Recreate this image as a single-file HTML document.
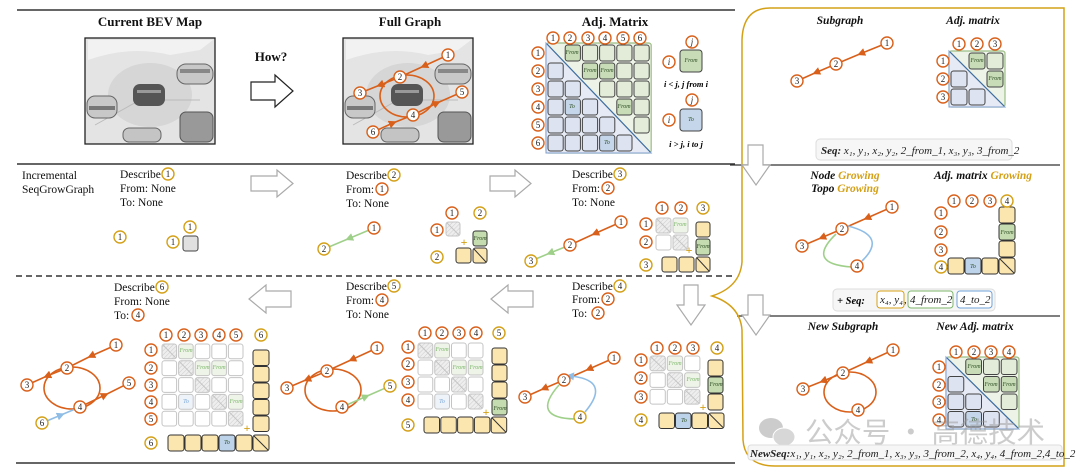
<!DOCTYPE html>
<html><head><meta charset="utf-8">
<style>
html,body{margin:0;padding:0;background:#fff;}
svg{display:block;font-family:"Liberation Serif","Noto Serif CJK SC",serif;}
.o{fill:#fff;stroke:#d9601a;stroke-width:1.4}
.g{fill:#fff;stroke:#d4a017;stroke-width:1.4}
.n{font-size:9px;text-anchor:middle;dominant-baseline:central;fill:#222}
.ttl{font-size:13px;font-weight:bold;text-anchor:middle;fill:#111}
.it{font-size:11.5px;font-weight:bold;font-style:italic;text-anchor:middle;fill:#111}
.gr{fill:#d4a017}
.d{font-size:11.5px;fill:#111}
.f{font-size:6px;font-style:italic;text-anchor:middle;dominant-baseline:central;fill:#2d4d22}
.ff{font-size:6px;font-style:italic;text-anchor:middle;dominant-baseline:central;fill:#7cb56a}
.tb{font-size:6px;font-style:italic;text-anchor:middle;dominant-baseline:central;fill:#7aa6d8}
.eo{stroke:#d9601a;stroke-width:1.6;fill:none}
.eg{stroke:#9fd08a;stroke-width:1.6;fill:none}
.eb{stroke:#8fbde6;stroke-width:1.6;fill:none}
.ha{fill:#fff;stroke:#aaa;stroke-width:1.2}
.sq{font-size:11px;font-style:italic;fill:#222}
</style></head>
<body>
<svg id="s" width="1080" height="475" viewBox="0 0 1080 475" xmlns="http://www.w3.org/2000/svg">
<defs>
<marker id="ao" viewBox="0 0 10 10" refX="5" refY="5" markerWidth="5" markerHeight="5" orient="auto"><path d="M0,0L10,5L0,10z" fill="#d9601a"/></marker>
<marker id="ag" viewBox="0 0 10 10" refX="5" refY="5" markerWidth="5" markerHeight="5" orient="auto"><path d="M0,0L10,5L0,10z" fill="#9fd08a"/></marker>
<marker id="ab" viewBox="0 0 10 10" refX="5" refY="5" markerWidth="5" markerHeight="5" orient="auto"><path d="M0,0L10,5L0,10z" fill="#8fbde6"/></marker>
<pattern id="ht" width="3" height="3" patternUnits="userSpaceOnUse" patternTransform="rotate(45)"><rect width="3" height="3" fill="#eee"/><line x1="0" y1="0" x2="0" y2="3" stroke="#ccc" stroke-width="1"/></pattern>
<g id="bevimg">
<rect x="85" y="38" width="130" height="106" fill="#e4e4e4"/>
<path d="M88,60 Q130,45 170,55 L200,50 L213,40 L88,40Z" fill="#f2f2f2"/>
<ellipse cx="150" cy="95" rx="42" ry="32" fill="#d6d6d6"/>
<path d="M95,125 L140,100 L200,100" stroke="#bbb" fill="none"/>
<rect x="133" y="84" width="32" height="22" rx="7" fill="#555"/>
<rect x="137" y="90" width="24" height="3" fill="#999"/>
<rect x="177" y="64" width="36" height="20" rx="9" fill="#c8c8c8" stroke="#666"/>
<rect x="180" y="69" width="30" height="4" fill="#888"/>
<rect x="87" y="96" width="30" height="22" rx="8" fill="#c8c8c8" stroke="#666"/>
<rect x="89" y="106" width="26" height="4" fill="#777"/>
<rect x="180" y="112" width="33" height="30" rx="6" fill="#999" stroke="#555"/>
<rect x="123" y="128" width="38" height="14" rx="6" fill="#c4c4c4" stroke="#666"/>
<rect x="85" y="38" width="130" height="106" fill="none" stroke="#222" stroke-width="1.3"/>
</g>
</defs>

<line x1="17" y1="10" x2="735" y2="10" stroke="#333" stroke-width="1.5"/>
<line x1="17" y1="164" x2="735" y2="164" stroke="#333" stroke-width="1.5"/>
<line x1="16" y1="276" x2="735" y2="276" stroke="#333" stroke-width="1.5" stroke-dasharray="6,4"/>
<line x1="16" y1="463" x2="735" y2="463" stroke="#333" stroke-width="1.5"/>
<line x1="730" y1="165" x2="1060" y2="165" stroke="#333" stroke-width="1.3"/>
<line x1="737" y1="316" x2="1060" y2="316" stroke="#333" stroke-width="1.3"/>
<path d="M770,8 L1064,8 L1064,466 L775,466 Q745,466 743,440 L742,330 Q740,305 712,296 Q740,287 742,262 L742,40 Q743,8 770,8Z" fill="none" stroke="#d4a017" stroke-width="1.5"/>

<text class="ttl" x="150" y="26">Current BEV Map</text>
<text class="ttl" x="410" y="26">Full Graph</text>
<text class="ttl" x="615" y="26">Adj.  Matrix</text>
<text class="ttl" x="271" y="61">How?</text>
<path d="M251,82 L275,82 L275,75 L293,91 L275,107 L275,100 L251,100Z" fill="#fff" stroke="#222" stroke-width="1.2"/>

<use href="#bevimg"/>
<use href="#bevimg" transform="translate(258,0)"/>
<ellipse cx="407" cy="96" rx="27" ry="21" class="eo"/>
<path class="eo" d="M448,55 L424,66 L400,77" marker-mid="url(#ao)"/>
<path class="eo" d="M400,77 L380,85 L360,93" marker-mid="url(#ao)"/>
<path class="eo" d="M413,115 L437,103 L462,92" marker-mid="url(#ao)"/>
<path class="eo" d="M373,132 L393,123 L413,115" marker-mid="url(#ao)"/>
<circle class="o" cx="448" cy="55" r="6"/><text class="n" x="448" y="55">1</text>
<circle class="o" cx="400" cy="77" r="6"/><text class="n" x="400" y="77">2</text>
<circle class="o" cx="360" cy="93" r="6"/><text class="n" x="360" y="93">3</text>
<circle class="o" cx="413" cy="115" r="6"/><text class="n" x="413" y="115">4</text>
<circle class="o" cx="462" cy="92" r="6"/><text class="n" x="462" y="92">5</text>
<circle class="o" cx="373" cy="132" r="6"/><text class="n" x="373" y="132">6</text>

<g id="cells"></g>

<circle class="o" cx="553" cy="38" r="6"/><text class="n" x="553" y="38">1</text>
<circle class="o" cx="570" cy="38" r="6"/><text class="n" x="570" y="38">2</text>
<circle class="o" cx="588" cy="38" r="6"/><text class="n" x="588" y="38">3</text>
<circle class="o" cx="605" cy="38" r="6"/><text class="n" x="605" y="38">4</text>
<circle class="o" cx="623" cy="38" r="6"/><text class="n" x="623" y="38">5</text>
<circle class="o" cx="640" cy="38" r="6"/><text class="n" x="640" y="38">6</text>
<circle class="o" cx="538" cy="53" r="6"/><text class="n" x="538" y="53">1</text>
<circle class="o" cx="538" cy="71" r="6"/><text class="n" x="538" y="71">2</text>
<circle class="o" cx="538" cy="89" r="6"/><text class="n" x="538" y="89">3</text>
<circle class="o" cx="538" cy="107" r="6"/><text class="n" x="538" y="107">4</text>
<circle class="o" cx="538" cy="125" r="6"/><text class="n" x="538" y="125">5</text>
<circle class="o" cx="538" cy="143" r="6"/><text class="n" x="538" y="143">6</text>
<text class="f" x="572" y="53">From</text><text class="f" x="590" y="71">From</text><text class="f" x="607" y="71">From</text><text class="f" x="624" y="107">From</text>
<text class="f" x="572" y="107" fill="#234">To</text><text class="f" x="607" y="143" fill="#234">To</text>
<circle class="o" cx="692" cy="42" r="6"/><text class="n" x="692" y="42" font-style="italic">j</text>
<rect x="680" y="50" width="22" height="22" rx="3" fill="#c8dcb8" stroke="#444"/><text class="f" x="691" y="61" font-size="8">From</text>
<circle class="o" cx="669" cy="62" r="6"/><text class="n" x="669" y="62" font-style="italic">i</text>
<text x="686" y="87" font-size="8.5" font-style="italic" font-weight="bold" text-anchor="middle">i &lt; j, j from i</text>
<circle class="o" cx="692" cy="100" r="6"/><text class="n" x="692" y="100" font-style="italic">j</text>
<rect x="680" y="109" width="22" height="22" rx="3" fill="#c5d6ea" stroke="#444"/><text class="f" x="691" y="120" font-size="8" fill="#234">To</text>
<circle class="o" cx="669" cy="120" r="6"/><text class="n" x="669" y="120" font-style="italic">i</text>
<text x="686" y="147" font-size="8.5" font-style="italic" font-weight="bold" text-anchor="middle">i &gt; j, i to j</text>

<text class="d" x="22" y="179">Incremental</text>
<text class="d" x="22" y="193">SeqGrowGraph</text>
<text class="d" x="120" y="178">Describe</text><circle class="g" cx="168" cy="174" r="6"/><text class="n" x="168" y="174">1</text>
<text class="d" x="120" y="192">From: None</text>
<text class="d" x="120" y="206">To: None</text>
<path class="ha" d="M251,176 L277,176 L277,170 L293,183.5 L277,197 L277,191 L251,191Z"/>
<circle class="g" cx="120" cy="237" r="6"/><text class="n" x="120" y="237">1</text>
<circle class="g" cx="190" cy="227" r="6"/><text class="n" x="190" y="227">1</text>
<circle class="g" cx="173" cy="242" r="6"/><text class="n" x="173" y="242">1</text>

<text class="d" x="346" y="179">Describe</text><circle class="g" cx="394" cy="175" r="6"/><text class="n" x="394" y="175">2</text>
<text class="d" x="346" y="193">From:</text><circle class="o" cx="382" cy="189" r="6"/><text class="n" x="382" y="189">1</text>
<text class="d" x="346" y="207">To: None</text>
<path class="ha" d="M490,176 L515,176 L515,170 L531,183.5 L515,197 L515,191 L490,191Z"/>
<path class="eg" d="M374,228 L349,238.5 L324,249" marker-mid="url(#ag)"/>
<circle class="o" cx="374" cy="228" r="6"/><text class="n" x="374" y="228">1</text>
<circle class="g" cx="324" cy="249" r="6"/><text class="n" x="324" y="249">2</text>
<circle class="o" cx="452" cy="213" r="6"/><text class="n" x="452" y="213">1</text>
<circle class="g" cx="480" cy="213" r="6"/><text class="n" x="480" y="213">2</text>
<circle class="o" cx="437" cy="230" r="6"/><text class="n" x="437" y="230">1</text>
<circle class="g" cx="437" cy="257" r="6"/><text class="n" x="437" y="257">2</text>
<text class="f" x="480" y="239">From</text>
<text x="464" y="246" font-size="12" font-weight="bold" fill="#d4a017" text-anchor="middle">+</text>

<text class="d" x="572" y="178">Describe</text><circle class="g" cx="620" cy="174" r="6"/><text class="n" x="620" y="174">3</text>
<text class="d" x="572" y="192">From:</text><circle class="o" cx="608" cy="188" r="6"/><text class="n" x="608" y="188">2</text>
<text class="d" x="572" y="206">To: None</text>
<path class="eo" d="M621,222 L595,233.5 L570,245" marker-mid="url(#ao)"/>
<path class="eg" d="M570,245 L550,253 L531,261" marker-mid="url(#ag)"/>
<circle class="o" cx="621" cy="222" r="6"/><text class="n" x="621" y="222">1</text>
<circle class="o" cx="570" cy="245" r="6"/><text class="n" x="570" y="245">2</text>
<circle class="g" cx="531" cy="261" r="6"/><text class="n" x="531" y="261">3</text>
<circle class="o" cx="662" cy="208" r="6"/><text class="n" x="662" y="208">1</text>
<circle class="o" cx="681" cy="208" r="6"/><text class="n" x="681" y="208">2</text>
<circle class="g" cx="703" cy="208" r="6"/><text class="n" x="703" y="208">3</text>
<circle class="o" cx="646" cy="224" r="6"/><text class="n" x="646" y="224">1</text>
<circle class="o" cx="646" cy="242" r="6"/><text class="n" x="646" y="242">2</text>
<circle class="g" cx="646" cy="265" r="6"/><text class="n" x="646" y="265">3</text>
<text class="ff" x="680" y="225">From</text><text class="f" x="703" y="247">From</text>
<text x="689" y="254" font-size="12" font-weight="bold" fill="#d4a017" text-anchor="middle">+</text>

<text class="d" x="114" y="291">Describe</text><circle class="g" cx="162" cy="287" r="6"/><text class="n" x="162" y="287">6</text>
<text class="d" x="114" y="305">From: None</text>
<text class="d" x="114" y="319">To:</text><circle class="o" cx="138" cy="315" r="6"/><text class="n" x="138" y="315">4</text>
<path class="ha" d="M291,291 L266,291 L266,285 L249,299 L266,313 L266,307 L291,307Z"/>
<path class="ha" d="M533,291 L508,291 L508,285 L491,299 L508,313 L508,307 L533,307Z"/>
<text class="d" x="346" y="290">Describe</text><circle class="g" cx="394" cy="286" r="6"/><text class="n" x="394" y="286">5</text>
<text class="d" x="346" y="304">From:</text><circle class="o" cx="382" cy="300" r="6"/><text class="n" x="382" y="300">4</text>
<text class="d" x="346" y="318">To: None</text>
<text class="d" x="572" y="290">Describe</text><circle class="g" cx="620" cy="286" r="6"/><text class="n" x="620" y="286">4</text>
<text class="d" x="572" y="303">From:</text><circle class="o" cx="608" cy="299" r="6"/><text class="n" x="608" y="299">2</text>
<text class="d" x="572" y="317">To:</text><circle class="o" cx="598" cy="313" r="6"/><text class="n" x="598" y="313">2</text>
<path class="ha" d="M684,285 L698,285 L698,305 L705,305 L691,325 L677,305 L684,305Z"/>

<ellipse cx="72" cy="388" rx="28" ry="21" class="eo"/>
<path class="eo" d="M116,345 L91,356 L67,368" marker-mid="url(#ao)"/>
<path class="eo" d="M67,368 L47,376 L27,385" marker-mid="url(#ao)"/>
<path class="eo" d="M80,407 L105,395 L129,383" marker-mid="url(#ao)"/>
<path class="eb" d="M42,423 L61,415 L80,407" marker-mid="url(#ab)"/>
<circle class="o" cx="116" cy="345" r="6"/><text class="n" x="116" y="345">1</text>
<circle class="o" cx="67" cy="368" r="6"/><text class="n" x="67" y="368">2</text>
<circle class="o" cx="27" cy="385" r="6"/><text class="n" x="27" y="385">3</text>
<circle class="o" cx="80" cy="407" r="6"/><text class="n" x="80" y="407">4</text>
<circle class="o" cx="129" cy="383" r="6"/><text class="n" x="129" y="383">5</text>
<circle class="g" cx="42" cy="423" r="6"/><text class="n" x="42" y="423">6</text>
<circle class="o" cx="166" cy="335" r="6"/><text class="n" x="166" y="335">1</text>
<circle class="o" cx="184" cy="335" r="6"/><text class="n" x="184" y="335">2</text>
<circle class="o" cx="201" cy="335" r="6"/><text class="n" x="201" y="335">3</text>
<circle class="o" cx="219" cy="335" r="6"/><text class="n" x="219" y="335">4</text>
<circle class="o" cx="236" cy="335" r="6"/><text class="n" x="236" y="335">5</text>
<circle class="g" cx="261" cy="335" r="6"/><text class="n" x="261" y="335">6</text>
<circle class="o" cx="151" cy="350" r="6"/><text class="n" x="151" y="350">1</text>
<circle class="o" cx="151" cy="368" r="6"/><text class="n" x="151" y="368">2</text>
<circle class="o" cx="151" cy="385" r="6"/><text class="n" x="151" y="385">3</text>
<circle class="o" cx="151" cy="402" r="6"/><text class="n" x="151" y="402">4</text>
<circle class="o" cx="151" cy="419" r="6"/><text class="n" x="151" y="419">5</text>
<circle class="g" cx="151" cy="443" r="6"/><text class="n" x="151" y="443">6</text>
<text class="ff" x="186" y="351">From</text><text class="ff" x="203" y="368">From</text><text class="ff" x="219" y="368">From</text><text class="ff" x="236" y="402">From</text><text class="tb" x="186" y="402">To</text>
<text class="f" x="227" y="443" fill="#234">To</text>
<text x="247" y="432" font-size="12" font-weight="bold" fill="#d4a017" text-anchor="middle">+</text>

<ellipse cx="333" cy="390" rx="28" ry="21" class="eo"/>
<path class="eo" d="M377,348 L352,359.5 L327,371" marker-mid="url(#ao)"/>
<path class="eo" d="M327,371 L307,379.5 L287,388" marker-mid="url(#ao)"/>
<path class="eg" d="M342,407 L366,396.5 L390,386" marker-mid="url(#ag)"/>
<circle class="o" cx="377" cy="348" r="6"/><text class="n" x="377" y="348">1</text>
<circle class="o" cx="327" cy="371" r="6"/><text class="n" x="327" y="371">2</text>
<circle class="o" cx="287" cy="388" r="6"/><text class="n" x="287" y="388">3</text>
<circle class="o" cx="342" cy="407" r="6"/><text class="n" x="342" y="407">4</text>
<circle class="g" cx="390" cy="386" r="6"/><text class="n" x="390" y="386">5</text>
<circle class="o" cx="425" cy="333" r="6"/><text class="n" x="425" y="333">1</text>
<circle class="o" cx="442" cy="333" r="6"/><text class="n" x="442" y="333">2</text>
<circle class="o" cx="459" cy="333" r="6"/><text class="n" x="459" y="333">3</text>
<circle class="o" cx="476" cy="333" r="6"/><text class="n" x="476" y="333">4</text>
<circle class="g" cx="499" cy="333" r="6"/><text class="n" x="499" y="333">5</text>
<circle class="o" cx="408" cy="347" r="6"/><text class="n" x="408" y="347">1</text>
<circle class="o" cx="408" cy="364" r="6"/><text class="n" x="408" y="364">2</text>
<circle class="o" cx="408" cy="382" r="6"/><text class="n" x="408" y="382">3</text>
<circle class="o" cx="408" cy="400" r="6"/><text class="n" x="408" y="400">4</text>
<circle class="g" cx="408" cy="425" r="6"/><text class="n" x="408" y="425">5</text>
<text class="ff" x="442" y="350">From</text><text class="ff" x="459" y="368">From</text><text class="ff" x="476" y="368">From</text><text class="tb" x="442" y="402">To</text>
<text class="f" x="500" y="409">From</text>
<text x="486" y="416" font-size="12" font-weight="bold" fill="#d4a017" text-anchor="middle">+</text>

<path class="eo" d="M614,358 L589,369 L564,380" marker-mid="url(#ao)"/>
<path class="eo" d="M564,380 L544,388.5 L525,397" marker-mid="url(#ao)"/>
<path class="eb" d="M585,412 Q612,380 570,376" marker-end="url(#ab)"/>
<path class="eg" d="M559,385 Q530,418 575,419"/>
<circle class="o" cx="614" cy="358" r="6"/><text class="n" x="614" y="358">1</text>
<circle class="o" cx="564" cy="380" r="6"/><text class="n" x="564" y="380">2</text>
<circle class="o" cx="525" cy="397" r="6"/><text class="n" x="525" y="397">3</text>
<circle class="g" cx="580" cy="417" r="6"/><text class="n" x="580" y="417">4</text>
<circle class="o" cx="657" cy="348" r="6"/><text class="n" x="657" y="348">1</text>
<circle class="o" cx="675" cy="348" r="6"/><text class="n" x="675" y="348">2</text>
<circle class="o" cx="693" cy="348" r="6"/><text class="n" x="693" y="348">3</text>
<circle class="g" cx="717" cy="348" r="6"/><text class="n" x="717" y="348">4</text>
<circle class="o" cx="641" cy="360" r="6"/><text class="n" x="641" y="360">1</text>
<circle class="o" cx="641" cy="378" r="6"/><text class="n" x="641" y="378">2</text>
<circle class="o" cx="641" cy="397" r="6"/><text class="n" x="641" y="397">3</text>
<circle class="g" cx="641" cy="420" r="6"/><text class="n" x="641" y="420">4</text>
<text class="ff" x="675" y="364">From</text><text class="ff" x="693" y="380">From</text>
<text class="f" x="716" y="385">From</text><text class="f" x="684" y="421" fill="#234">To</text>
<text x="703" y="411" font-size="12" font-weight="bold" fill="#d4a017" text-anchor="middle">+</text>

<text class="it" x="840" y="24">Subgraph</text>
<text class="it" x="973" y="24">Adj. matrix</text>
<path class="eo" d="M887,43 L861,53.5 L836,64" marker-mid="url(#ao)"/>
<path class="eo" d="M836,64 L816,72.5 L797,81" marker-mid="url(#ao)"/>
<circle class="o" cx="887" cy="43" r="6"/><text class="n" x="887" y="43">1</text>
<circle class="o" cx="836" cy="64" r="6"/><text class="n" x="836" y="64">2</text>
<circle class="o" cx="797" cy="81" r="6"/><text class="n" x="797" y="81">3</text>
<circle class="o" cx="959" cy="44" r="6"/><text class="n" x="959" y="44">1</text>
<circle class="o" cx="977" cy="44" r="6"/><text class="n" x="977" y="44">2</text>
<circle class="o" cx="995" cy="44" r="6"/><text class="n" x="995" y="44">3</text>
<circle class="o" cx="943" cy="61" r="6"/><text class="n" x="943" y="61">1</text>
<circle class="o" cx="943" cy="79" r="6"/><text class="n" x="943" y="79">2</text>
<circle class="o" cx="943" cy="97" r="6"/><text class="n" x="943" y="97">3</text>
<text class="f" x="977" y="61">From</text><text class="f" x="995" y="79">From</text>
<rect x="816" y="139" width="196" height="21" rx="4" fill="#f6f6f6" stroke="#ddd"/>
<text class="sq" x="821" y="154"><tspan font-weight="bold">Seq:</tspan> x₁, y₁, x₂, y₂, 2_from_1, x₃, y₃, 3_from_2</text>
<path class="ha" d="M748,145 L763,145 L763,165 L770,165 L756,185 L742,165 L748,165Z"/>
<path class="ha" d="M748,295 L763,295 L763,315 L770,315 L756,335 L742,315 L748,315Z"/>

<text class="it" x="845" y="179">Node <tspan class="gr">Growing</tspan></text>
<text class="it" x="845" y="192">Topo <tspan class="gr">Growing</tspan></text>
<text class="it" x="983" y="179">Adj. matrix <tspan class="gr">Growing</tspan></text>
<path class="eo" d="M892,207 L867,218 L842,229" marker-mid="url(#ao)"/>
<path class="eo" d="M842,229 L822,237.5 L802,246" marker-mid="url(#ao)"/>
<path class="eb" d="M862,261 Q888,236 848,226" />
<path class="eg" d="M836,234 Q805,264 852,267"/>
<circle class="o" cx="892" cy="207" r="6"/><text class="n" x="892" y="207">1</text>
<circle class="o" cx="842" cy="229" r="6"/><text class="n" x="842" y="229">2</text>
<circle class="o" cx="802" cy="246" r="6"/><text class="n" x="802" y="246">3</text>
<circle class="o" cx="857" cy="266" r="6"/><text class="n" x="857" y="266">4</text>
<circle class="o" cx="954" cy="201" r="6"/><text class="n" x="954" y="201">1</text>
<circle class="o" cx="972" cy="201" r="6"/><text class="n" x="972" y="201">2</text>
<circle class="o" cx="990" cy="201" r="6"/><text class="n" x="990" y="201">3</text>
<circle class="g" cx="1007" cy="201" r="6"/><text class="n" x="1007" y="201">4</text>
<circle class="o" cx="941" cy="213" r="6"/><text class="n" x="941" y="213">1</text>
<circle class="o" cx="941" cy="232" r="6"/><text class="n" x="941" y="232">2</text>
<circle class="o" cx="941" cy="250" r="6"/><text class="n" x="941" y="250">3</text>
<circle class="g" cx="941" cy="267" r="6"/><text class="n" x="941" y="267">4</text>
<text class="f" x="1007" y="233">From</text><text class="f" x="973" y="267" fill="#234">To</text>

<rect x="833" y="289" width="162" height="22" rx="4" fill="#f6f6f6" stroke="#ddd"/>
<text x="837" y="304" font-size="10.5" font-style="italic" font-weight="bold">+ Seq:</text>
<rect x="877" y="291" width="27" height="17" rx="3" fill="#fff" stroke="#d4a017"/>
<text class="sq" x="880" y="303" font-size="10">x₄, y₄</text>
<text class="sq" x="904" y="303" font-size="10">,</text>
<rect x="908" y="291" width="45" height="17" rx="3" fill="#fff" stroke="#7cb56a"/>
<text class="sq" x="910" y="303" font-size="10">4_from_2</text>
<rect x="957" y="291" width="35" height="17" rx="3" fill="#fff" stroke="#6fa0d8"/>
<text class="sq" x="960" y="303" font-size="10">4_to_2</text>

<text class="it" x="843" y="330">New Subgraph</text>
<text class="it" x="975" y="330">New Adj. matrix</text>
<ellipse cx="850" cy="392" rx="26" ry="20" class="eo"/>
<path class="eo" d="M893,350 L868,361.5 L843,373" marker-mid="url(#ao)"/>
<path class="eo" d="M843,373 L823,381 L803,389" marker-mid="url(#ao)"/>
<circle class="o" cx="893" cy="350" r="6"/><text class="n" x="893" y="350">1</text>
<circle class="o" cx="843" cy="373" r="6"/><text class="n" x="843" y="373">2</text>
<circle class="o" cx="803" cy="389" r="6"/><text class="n" x="803" y="389">3</text>
<circle class="o" cx="858" cy="410" r="6"/><text class="n" x="858" y="410">4</text>
<circle class="o" cx="956" cy="352" r="6"/><text class="n" x="956" y="352">1</text>
<circle class="o" cx="974" cy="352" r="6"/><text class="n" x="974" y="352">2</text>
<circle class="o" cx="991" cy="352" r="6"/><text class="n" x="991" y="352">3</text>
<circle class="o" cx="1009" cy="352" r="6"/><text class="n" x="1009" y="352">4</text>
<circle class="o" cx="939" cy="367" r="6"/><text class="n" x="939" y="367">1</text>
<circle class="o" cx="939" cy="385" r="6"/><text class="n" x="939" y="385">2</text>
<circle class="o" cx="939" cy="402" r="6"/><text class="n" x="939" y="402">3</text>
<circle class="o" cx="939" cy="420" r="6"/><text class="n" x="939" y="420">4</text>
<text class="f" x="974" y="367">From</text><text class="f" x="991" y="385">From</text><text class="f" x="1009" y="385">From</text><text class="f" x="974" y="420" fill="#234">To</text>

<g opacity="0.5">
<ellipse cx="771" cy="428" rx="12" ry="10" fill="#9a9a9a"/>
<ellipse cx="784" cy="437" rx="11" ry="9" fill="#b0b0b0" stroke="#fff"/>
<text x="805" y="442" font-family="'Noto Sans CJK SC',sans-serif" font-size="28" fill="#9a9a9a" textLength="240" lengthAdjust="spacingAndGlyphs">公众号 · 高德技术</text>
</g>
<rect x="748" y="445" width="314" height="15" rx="3" fill="#f6f6f6" stroke="#ddd"/>
<text class="sq" x="750" y="457" font-size="10.3"><tspan font-weight="bold">NewSeq:</tspan>x₁, y₁, x₂, y₂, 2_from_1, x₃, y₃, 3_from_2, x₄, y₄, 4_from_2,4_to_2</text>
</svg>
<script>
(function(){
var NS="http://www.w3.org/2000/svg",g=document.getElementById("cells");
function r(x,y,w,h,fill,stroke,diag,sw){var e=document.createElementNS(NS,"rect");e.setAttribute("x",x);e.setAttribute("y",y);e.setAttribute("width",w);e.setAttribute("height",h);e.setAttribute("rx",2.5);e.setAttribute("fill",fill);e.setAttribute("stroke",stroke);e.setAttribute("stroke-width",sw||1);g.appendChild(e);
if(diag){var l=document.createElementNS(NS,"line");l.setAttribute("x1",x+1);l.setAttribute("y1",y+1);l.setAttribute("x2",x+w-1);l.setAttribute("y2",y+h-1);l.setAttribute("stroke",stroke);g.appendChild(l);}}
function key(a,i,j){for(var k=0;k<a.length;k++)if(a[k][0]==i&&a[k][1]==j)return true;return false;}
function big(x0,y0,n,w,h,from,to){
 r(x0-1,y0-1,n*w+2,n*h+2,"#eef3e8","#9cbf86",false,1.2);
 var p=document.createElementNS(NS,"path");p.setAttribute("d","M"+(x0-1)+","+(y0-1)+"L"+(x0-1)+","+(y0+n*h+1)+"L"+(x0+n*w+1)+","+(y0+n*h+1)+"Z");p.setAttribute("fill","#e6eaf4");p.setAttribute("stroke","#7f9fcf");g.appendChild(p);
 for(var i=0;i<n;i++)for(var j=0;j<n;j++){
  var f=i<j?"#e2ecd8":(i>j?"#dde3f1":"#e4e6ea");
  if(key(from,i,j))f="#c8dcb8";if(key(to,i,j))f="#c5d6ea";
  if(i==j)continue;
  r(x0+j*w+1,y0+i*h+1,w-2,h-2,f,"#444",false);}
 var l=document.createElementNS(NS,"line");l.setAttribute("x1",x0);l.setAttribute("y1",y0);l.setAttribute("x2",x0+n*w);l.setAttribute("y2",y0+n*h);l.setAttribute("stroke","#3f6f9f");l.setAttribute("stroke-width",1.2);g.appendChild(l);}
big(547,44,6,17.2,18,[[0,1],[1,2],[1,3],[3,4]],[[3,1],[5,3]]);
big(950,52,3,18,18,[[0,1],[1,2]],[]);
big(947,358,4,17.75,17.5,[[0,1],[1,2],[1,3]],[[3,1]]);
function old(x0,y0,n,w,h,from,to){for(var i=0;i<n;i++)for(var j=0;j<n;j++){var f="#fff";if(key(from,i,j))f="#eef5e8";if(key(to,i,j))f="#eef3fa";r(x0+j*w+1,y0+i*h+1,w-2,h-2,i==j?"url(#ht)":f,"#c4c4c4",i==j);}}
var Y="#fbe6b0",FG="#c5dcb0",TB="#bcd3ea";
r(183,236,15,15,"#e0e0e0","#444");
old(445,221,1,16,16,[],[]);
r(473,231,14,15,FG,"#333");r(456,248,15,15,Y,"#333");r(473,248,14,15,Y,"#333",true);
old(655,217,2,17,17,[[0,1]],[]);
r(696,222,14,15,Y,"#333");r(696,239,14,16,FG,"#333");
r(662,257,15,15,Y,"#333");r(679,257,15,15,Y,"#333");r(696,257,14,15,Y,"#333",true);
old(161,343,5,16.6,16.8,[[0,1],[1,2],[1,3],[3,4]],[[3,1]]);
for(var k=0;k<5;k++)r(253,350+k*16.5,16,15.5,Y,"#333");
for(k=0;k<6;k++)r(168+k*17,435,16,16,k==3?TB:Y,"#333",k==5);
old(417,342,4,16.75,17,[[0,1],[1,2],[1,3]],[[3,1]]);
for(k=0;k<4;k++)r(492,348+k*17,15,16,k==3?FG:Y,"#333");
for(k=0;k<5;k++)r(424+k*16.8,417,15.5,16,Y,"#333",k==4);
old(649,355,3,17.3,16.7,[[0,1],[1,2]],[]);
for(k=0;k<3;k++)r(708,360+k*17,15,16,k==1?FG:Y,"#333");
for(k=0;k<4;k++)r(659+k*16.5,413,15.5,15.5,k==1?TB:Y,"#333",k==3);
for(k=0;k<3;k++)r(999,207+k*17,16,16,k==1?FG:Y,"#333");
for(k=0;k<4;k++)r(948+k*17,258,16,16,k==1?TB:Y,"#333",k==3);
})();
</script>
</body></html>
